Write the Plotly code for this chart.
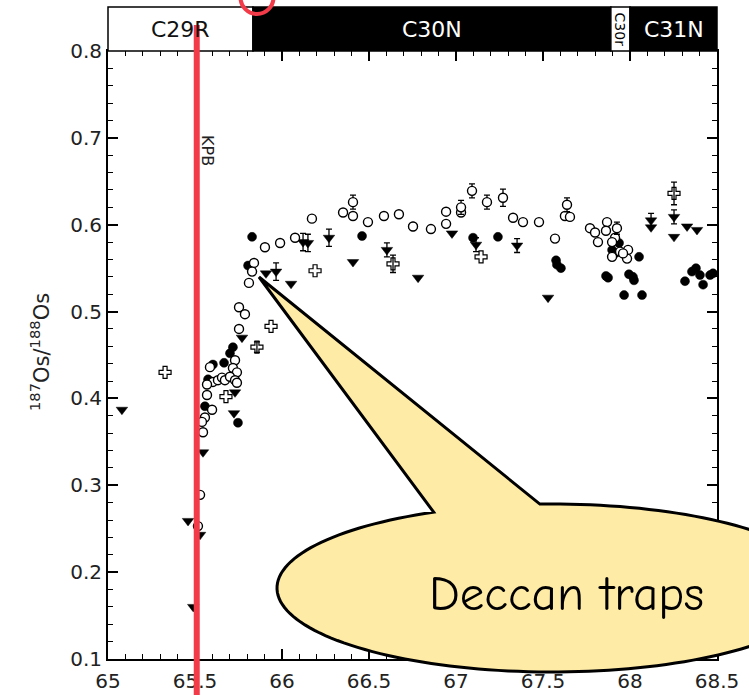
import math
import plotly.graph_objects as go

# ---------------- data ----------------
# open circles: age (Ma), 187Os/188Os, error (0 = no error bar)
oc_x = [65.753, 65.787, 65.753, 65.730, 65.586, 65.718, 65.741, 65.603, 65.632, 65.655,
        65.672, 65.701, 65.730, 65.741, 65.569, 65.569, 65.598, 65.557, 65.546, 65.540,
        65.529, 65.517, 65.902, 65.989, 66.075, 65.839, 65.828, 65.810, 66.172, 66.351,
        66.408, 66.408, 66.494, 66.586, 66.672, 66.753, 66.856, 66.943, 66.943, 67.029,
        67.029, 67.092, 67.178, 67.270, 67.328, 67.385, 67.477, 67.638, 67.626, 67.655,
        67.569, 67.770, 67.799, 67.816, 67.868, 67.862, 67.925, 67.914, 67.897, 67.897,
        67.943, 67.989, 67.983, 67.960]
oc_y = [0.505, 0.497, 0.480, 0.444, 0.436, 0.435, 0.430, 0.419, 0.421, 0.424,
        0.421, 0.425, 0.421, 0.418, 0.416, 0.404, 0.387, 0.378, 0.361, 0.373,
        0.289, 0.253, 0.574, 0.579, 0.585, 0.556, 0.546, 0.533, 0.607, 0.614,
        0.626, 0.610, 0.603, 0.610, 0.612, 0.598, 0.595, 0.615, 0.601, 0.620,
        0.614, 0.639, 0.626, 0.631, 0.608, 0.603, 0.603, 0.623, 0.610, 0.609,
        0.584, 0.596, 0.591, 0.580, 0.603, 0.593, 0.596, 0.585, 0.580, 0.563,
        0.569, 0.571, 0.561, 0.567]
oc_e = [0, 0, 0, 0, 0, 0, 0, 0, 0, 0,
        0, 0, 0, 0, 0, 0, 0, 0, 0, 0,
        0, 0, 0, 0, 0, 0, 0, 0, 0, 0,
        0.008, 0, 0, 0, 0, 0, 0, 0, 0, 0.008,
        0, 0.008, 0.008, 0.010, 0, 0, 0, 0.008, 0, 0,
        0, 0, 0, 0, 0, 0, 0.007, 0, 0, 0,
        0, 0, 0, 0]

# filled circles
fc_x = [65.747, 65.718, 65.701, 65.667, 65.603, 65.575, 65.557, 65.828, 65.805, 66.460,
        66.753, 67.098, 67.241, 67.575, 67.580, 67.603, 67.937, 67.897, 67.914, 68.052,
        67.862, 67.874, 67.994, 68.017, 68.023, 67.966, 68.069, 68.316, 68.356, 68.379,
        68.402, 68.420, 68.460, 68.477]
fc_y = [0.372, 0.459, 0.452, 0.441, 0.439, 0.422, 0.391, 0.586, 0.553, 0.587,
        0.598, 0.585, 0.586, 0.559, 0.554, 0.550, 0.579, 0.571, 0.567, 0.563,
        0.541, 0.539, 0.543, 0.540, 0.536, 0.519, 0.519, 0.535, 0.546, 0.550,
        0.542, 0.531, 0.542, 0.544]

# filled down-triangles
tr_x = [65.080, 65.460, 65.529, 65.490, 65.546, 65.770, 65.730, 65.724, 66.121, 66.149,
        66.270, 65.908, 65.966, 66.052, 66.408, 66.603, 66.782, 66.977, 67.115, 67.351,
        67.529, 68.121, 68.121, 68.253, 68.253, 68.328, 68.385]
tr_y = [0.387, 0.259, 0.243, 0.160, 0.338, 0.470, 0.407, 0.383, 0.580, 0.579,
        0.585, 0.544, 0.546, 0.532, 0.557, 0.571, 0.539, 0.590, 0.577, 0.576,
        0.516, 0.605, 0.597, 0.609, 0.586, 0.598, 0.594]
tr_e = [0, 0, 0, 0, 0, 0, 0, 0, 0.010, 0.010,
        0.010, 0, 0.010, 0, 0, 0.008, 0, 0, 0.008, 0.008,
        0, 0.008, 0, 0.008, 0, 0, 0]

# open crosses
cx_x = [65.328, 65.937, 65.856, 65.678, 66.190, 66.638, 67.144, 68.253]
cx_y = [0.430, 0.483, 0.459, 0.402, 0.547, 0.555, 0.563, 0.636]
cx_e = [0, 0, 0.006, 0, 0, 0.010, 0, 0.013]

# magnetic polarity chrons
chron_names = ["C29R", "C30N", "C30r", "C31N"]
chron_bounds = [65.0, 65.833, 67.89, 68.0, 68.5]
chron_normal = [False, True, False, True]

kpb_age = 65.51
x_ticks = [65, 65.5, 66, 66.5, 67, 67.5, 68, 68.5]
x_tick_text = ["65", "65.5", "66", "66.5", "67", "67.5", "68", "68.5"]
y_ticks = [0.1, 0.2, 0.3, 0.4, 0.5, 0.6, 0.7, 0.8]
y_tick_text = ["0.1", "0.2", "0.3", "0.4", "0.5", "0.6", "0.7", "0.8"]

# ---------------- layout geometry ----------------
W, H = 749, 695
ML, MR, MT, MB = 108, 32, 51, 36
PW, PH = W - ML - MR, H - MT - MB
XR = [65.0, 68.5]
YR = [0.1, 0.8]
FONT = "DejaVu Sans, Liberation Sans, Arial, sans-serif"


def xd2p(x):
    return (x - XR[0]) / (XR[1] - XR[0])


def px2p(px, py):
    return (px - ML) / PW, (H - MB - py) / PH


fig = go.Figure()


def add_series(xs, ys, es, marker, name):
    plain = [(x, y) for x, y, e in zip(xs, ys, es) if not e]
    witherr = [(x, y, e) for x, y, e in zip(xs, ys, es) if e]
    if plain:
        fig.add_trace(go.Scatter(x=[p[0] for p in plain], y=[p[1] for p in plain],
                                 mode="markers", marker=marker, name=name,
                                 showlegend=False, hoverinfo="x+y"))
    if witherr:
        fig.add_trace(go.Scatter(x=[p[0] for p in witherr], y=[p[1] for p in witherr],
                                 mode="markers", marker=marker, name=name,
                                 error_y=dict(type="data", array=[p[2] for p in witherr],
                                              visible=True, color="black",
                                              thickness=1.3, width=3),
                                 showlegend=False, hoverinfo="x+y"))


add_series(tr_x, tr_y, tr_e,
           dict(symbol="triangle-down", size=10, color="black",
                line=dict(color="black", width=0.5)), "triangles")
add_series(fc_x, fc_y, [0] * len(fc_x),
           dict(symbol="circle", size=9, color="black",
                line=dict(color="black", width=0.5)), "filled")
add_series(oc_x, oc_y, oc_e,
           dict(symbol="circle", size=9, color="white",
                line=dict(color="black", width=1.4)), "open")
add_series(cx_x, cx_y, cx_e,
           dict(symbol="cross-open", size=10, color="black",
                line=dict(color="black", width=1.2)), "cross")

shapes = []
annotations = []


def ann(x, y, text, size, color="black", family=FONT, angle=0):
    annotations.append(dict(x=x, y=y, xref="paper", yref="paper", text=text,
                            showarrow=False, textangle=angle,
                            xanchor="center", yanchor="middle",
                            font=dict(family=family, size=size, color=color)))


# polarity bar
bar_y0 = px2p(0, 51)[1]
bar_y1 = px2p(0, 7)[1]
bar_ym = px2p(0, 30)[1]
for name, a, b, normal in zip(chron_names, chron_bounds[:-1], chron_bounds[1:], chron_normal):
    shapes.append(dict(type="rect", xref="paper", yref="paper",
                       x0=xd2p(a), x1=xd2p(b), y0=bar_y0, y1=bar_y1,
                       fillcolor="black" if normal else "white",
                       line=dict(color="black", width=1.5), layer="above"))
    xm = xd2p((a + b) / 2)
    if name == "C30r":
        ann(xm, bar_ym, name, 14, angle=90)
    else:
        ann(xm, bar_ym, name, 22, color="white" if normal else "#111")

# KPB red line
kx = xd2p(kpb_age)
shapes.append(dict(type="line", xref="paper", yref="paper", x0=kx, x1=kx,
                   y0=px2p(0, 700)[1], y1=px2p(0, 25)[1],
                   line=dict(color="#F23A48", width=6), layer="above"))
# red circle at top
c0 = px2p(240.5, 14)
c1 = px2p(273.5, -19)
shapes.append(dict(type="circle", xref="paper", yref="paper",
                   x0=c0[0], x1=c1[0], y0=c0[1], y1=c1[1],
                   line=dict(color="#F23A48", width=4), layer="above"))

kp = px2p(207, 150)
ann(kp[0], kp[1], "KPB", 16, color="#222", angle=90)

# callout balloon
ecx, ecy, era, erb = 552, 588, 275, 84
tip = (259, 277)
baseL = (435, 513)
baseR = (540, 505)


def eang(p):
    return math.atan2((p[1] - ecy) / erb, (p[0] - ecx) / era)


t1 = eang(baseL)
t2 = eang(baseR) - 2 * math.pi
pts = [tip]
n = 160
for i in range(n + 1):
    t = t1 + (t2 - t1) * i / n
    pts.append((ecx + era * math.cos(t), ecy + erb * math.sin(t)))
path = ""
for i, (px, py) in enumerate(pts):
    xp, yp = px2p(px, py)
    path += ("M" if i == 0 else "L") + f"{xp:.5f},{yp:.5f}"
path += "Z"
shapes.append(dict(type="path", xref="paper", yref="paper", path=path,
                   fillcolor="#FEEBA6", line=dict(color="black", width=3), layer="above"))
tx, ty = px2p(566, 594)
ann(tx, ty, "Deccan traps", 49,
    family="Comic Sans MS, Comic Neue, DejaVu Sans, sans-serif")

# y axis title
yt = px2p(40, 352)
ann(yt[0], yt[1], "<sup>187</sup>Os/<sup>188</sup>Os", 21, color="#222", angle=-90)

axis_common = dict(showgrid=False, zeroline=False, showline=True, linecolor="black",
                   linewidth=2, mirror="ticks", ticks="inside", tickcolor="black",
                   tickwidth=1.5, ticklen=10, automargin=False,
                   tickfont=dict(family=FONT, size=20, color="#222"))

fig.update_layout(
    width=W, height=H,
    margin=dict(l=ML, r=MR, t=MT, b=MB, pad=0),
    paper_bgcolor="white", plot_bgcolor="white",
    showlegend=False,
    xaxis=dict(range=XR, tickvals=x_ticks, ticktext=x_tick_text, ticklabelstandoff=3,
               minor=dict(ticks="inside", dtick=0.1, tick0=65, ticklen=5,
                          tickcolor="black", tickwidth=1.2),
               **axis_common),
    yaxis=dict(range=YR, tickvals=y_ticks, ticktext=y_tick_text,
               minor=dict(ticks="inside", dtick=0.02, tick0=0.1, ticklen=5,
                          tickcolor="black", tickwidth=1.2),
               **axis_common),
    shapes=shapes,
    annotations=annotations,
)

fig.write_html("out.html")
